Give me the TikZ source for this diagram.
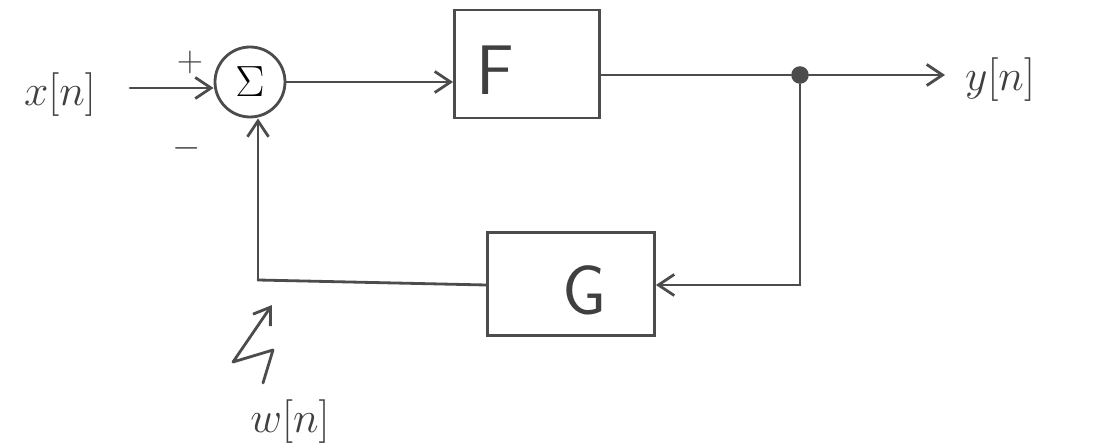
\documentclass[tikz,border=0pt]{standalone}
\usetikzlibrary{arrows.meta,calc}
\begin{document}
\begin{tikzpicture}[x=0.02cm,y=-0.02cm,
  wire/.style={draw=black!70, line width=1.6pt, line cap=round, line join=round},
  arr/.style={wire, -{Straight Barb[length=9pt,width=12pt,line width=1.6pt]}},
  blk/.style={draw=black!70, line width=1.6pt},
  lbl/.style={text=black!75, inner sep=0pt}]
\useasboundingbox (0,0) rectangle (1097,448);
% nodes
\node[draw=black!70, line width=1.6pt, circle, minimum size=70*0.02cm, inner sep=0pt] (sum) at (250,82) {\fontsize{28}{32}\selectfont$\Sigma$};
\node[blk, minimum width=145*0.02cm, minimum height=108*0.02cm, inner sep=0pt] (F) at (527,64) {};
\node[lbl, font=\fontsize{40}{44}\sffamily] (Ft) at (495,70) {F};
\node[blk, minimum width=167*0.02cm, minimum height=103*0.02cm, inner sep=0pt] (G) at (571,284) {};
\node[lbl, font=\fontsize{40}{44}\sffamily] (Gt) at (585,290) {G};
\node[lbl, font=\fontsize{24}{28}\selectfont] (x) at (60,95) {$x[n]$};
\node[lbl, font=\fontsize{24}{28}\selectfont] (y) at (1000,80) {$y[n]$};
\node[lbl, font=\fontsize{24}{28}\selectfont] (w) at (290,422) {$w[n]$};
\node[lbl, font=\fontsize{20}{24}\selectfont] (plus) at (190,62) {$+$};
\node[lbl, font=\fontsize{20}{24}\selectfont] (minus) at (187,148) {$-$};
\node[circle, fill=black!70, inner sep=0pt, minimum size=10pt] (dot) at (800,75) {};
\coordinate (xs) at (130,88);
\coordinate (gl) at (258,280);
\coordinate (br) at (800,285);
\coordinate (yout) at (945,75);
% connectors
\draw[arr] (xs) -- (sum.west |- xs);
\draw[arr] (sum.east) -- (F.west |- sum.east);
\draw[wire] (F.east |- dot) -- (dot);
\draw[arr] (dot) -- (yout);
\draw[wire] (dot) -- (br);
\draw[arr] (br) -- (G.east |- br);
\draw[wire] (G.west |- br) -- (gl);
\draw[arr] (gl) -- (sum.south -| gl);
% disturbance squiggle
\coordinate (s0) at (263,383);
\coordinate (s1) at (273,350);
\coordinate (s2) at (233,362);
\coordinate (s3) at (272,305);
\draw[arr] (s0) -- (s1) -- (s2) -- (s3);
\end{tikzpicture}
\end{document}
